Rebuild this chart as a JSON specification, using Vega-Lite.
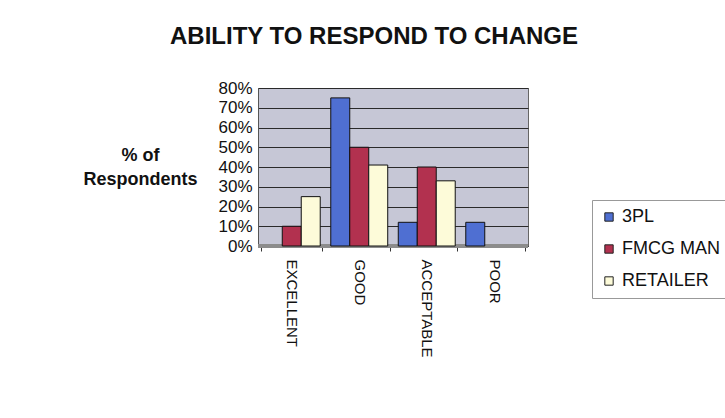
{
  "$schema": "https://vega.github.io/schema/vega-lite/v6.json",
  "autosize": "none",
  "width": 270,
  "height": 158,
  "padding": {"left": 258, "top": 88, "right": 197, "bottom": 172},
  "background": "white",
  "title": {
    "text": "ABILITY TO RESPOND TO CHANGE",
    "anchor": "middle",
    "frame": "group",
    "dx": -19,
    "offset": 30,
    "font": "Liberation Sans",
    "fontSize": 24,
    "fontWeight": "bold",
    "color": "#111111"
  },
  "config": {
    "view": {"fill": "#c6c7d6", "stroke": "#666666", "strokeWidth": 1},
    "font": "Liberation Sans"
  },
  "data": {
    "values": [
      {"rating": "EXCELLENT", "group": "3PL", "share": 0},
      {"rating": "EXCELLENT", "group": "FMCG MAN", "share": 0.10},
      {"rating": "EXCELLENT", "group": "RETAILER", "share": 0.25},
      {"rating": "GOOD", "group": "3PL", "share": 0.75},
      {"rating": "GOOD", "group": "FMCG MAN", "share": 0.50},
      {"rating": "GOOD", "group": "RETAILER", "share": 0.41},
      {"rating": "ACCEPTABLE", "group": "3PL", "share": 0.12},
      {"rating": "ACCEPTABLE", "group": "FMCG MAN", "share": 0.40},
      {"rating": "ACCEPTABLE", "group": "RETAILER", "share": 0.33},
      {"rating": "POOR", "group": "3PL", "share": 0.12},
      {"rating": "POOR", "group": "FMCG MAN", "share": 0},
      {"rating": "POOR", "group": "RETAILER", "share": 0}
    ]
  },
  "encoding": {
    "x": {
      "field": "rating",
      "type": "nominal",
      "sort": ["EXCELLENT", "GOOD", "ACCEPTABLE", "POOR"],
      "scale": {"paddingInner": 0.1, "paddingOuter": 0.05},
      "axis": {
        "title": null,
        "labelAngle": 90,
        "labelAlign": "left",
        "labelBaseline": "middle",
        "labelFontSize": 15,
        "labelColor": "#111111",
        "labelPadding": 8,
        "domain": true,
        "domainColor": "#333333",
        "ticks": true,
        "tickBand": "extent",
        "tickColor": "#333333",
        "tickSize": 5
      }
    },
    "y": {
      "field": "share",
      "type": "quantitative",
      "scale": {"domain": [0, 0.8], "nice": false},
      "axis": {
        "format": ".0%",
        "values": [0, 0.1, 0.2, 0.3, 0.4, 0.5, 0.6, 0.7, 0.8],
        "labelFontSize": 17,
        "labelColor": "#111111",
        "labelPadding": 6,
        "ticks": false,
        "domainColor": "#555555",
        "grid": true,
        "gridColor": "#2a2a2a",
        "gridWidth": 1,
        "title": ["% of", "Respondents"],
        "titleAngle": 0,
        "titleAlign": "center",
        "titleBaseline": "middle",
        "titleX": -118,
        "titleY": 67,
        "titleFontSize": 18,
        "titleFontWeight": "bold",
        "titleColor": "#111111",
        "titleLineHeight": 24
      }
    }
  },
  "layer": [
    {
      "mark": {"type": "rule", "color": "#8c8c8c", "strokeWidth": 4},
      "transform": [{"filter": "datum.rating == 'POOR' && datum.group == 'RETAILER'"}],
      "encoding": {"x": null}
    },
    {
      "mark": {"type": "bar", "stroke": "#111111", "strokeWidth": 1},
      "transform": [{"filter": "datum.share > 0"}],
      "encoding": {
        "xOffset": {
          "field": "group",
          "type": "nominal",
          "sort": ["3PL", "FMCG MAN", "RETAILER"],
          "scale": {"domain": ["3PL", "FMCG MAN", "RETAILER"], "paddingInner": 0, "paddingOuter": 0.1}
        },
        "color": {
          "field": "group",
          "type": "nominal",
          "scale": {"domain": ["3PL", "FMCG MAN", "RETAILER"], "range": ["#4f6fd2", "#b2314f", "#fdfbd9"]},
          "legend": {
            "title": null,
            "orient": "none",
            "legendX": 334,
            "legendY": 112,
            "symbolType": "square",
            "symbolSize": 70,
            "symbolStrokeColor": "#222222",
            "symbolStrokeWidth": 1,
            "labelFontSize": 18,
            "labelColor": "#111111",
            "labelOffset": 4,
            "rowPadding": 14,
            "strokeColor": "#999999",
            "fillColor": "white",
            "padding": 8
          }
        }
      }
    }
  ]
}
